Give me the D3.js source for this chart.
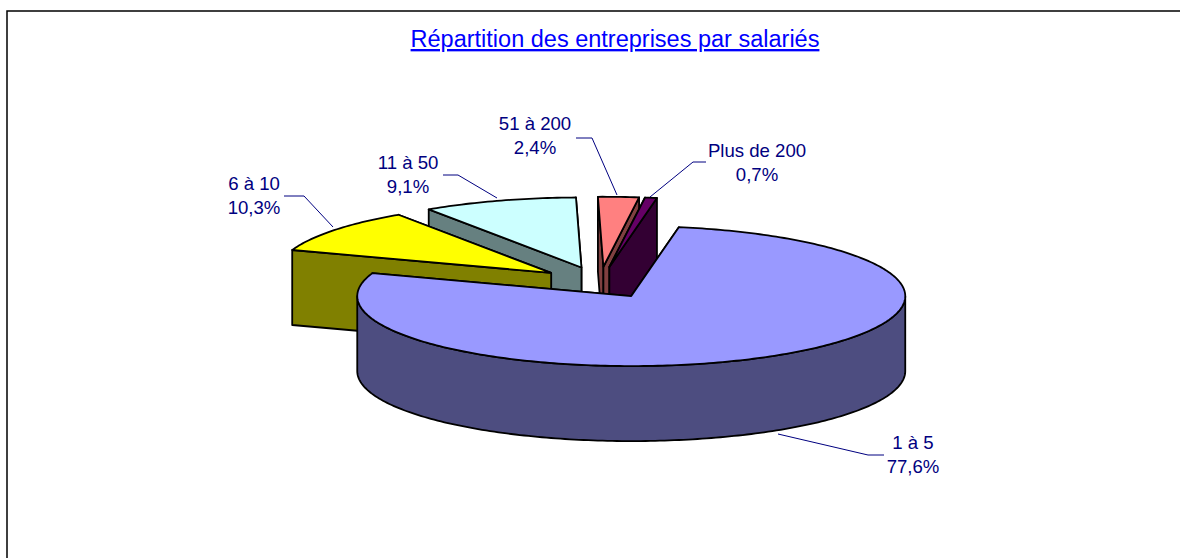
<!DOCTYPE html>
<html>
<head>
<meta charset="utf-8">
<script src="https://d3js.org/d3.v7.min.js"></script>
<style>
  html, body { margin: 0; padding: 0; background: #fff; overflow: hidden; }
  svg { display: block; }
  text { font-family: "Liberation Sans", Arial, sans-serif; }
</style>
</head>
<body>
<svg id="chart" width="1180" height="558"></svg>
<script>
const title = "Répartition des entreprises par salariés";
const categories = ["1 à 5", "6 à 10", "11 à 50", "51 à 200", "Plus de 200"];
const shares = [77.6, 10.3, 9.1, 2.4, 0.7];
const shareLabels = ["77,6%", "10,3%", "9,1%", "2,4%", "0,7%"];
const topColors = ["#9999ff", "#ffff00", "#ccffff", "#ff8080", "#660066"];

// pie geometry
const cx = 600, cy = 282.5, rx = 274, ry = 70, depth = 75, explode = 0.225;
const firstAngle = 10 * Math.PI / 180;

// label centre and leader line for each slice, same order as categories
const labelPos = [[913, 443], [254, 184], [408, 163], [535, 124], [757, 151]];
const leaders = [
  [[778, 434], [868, 455], [884, 455]],
  [[333, 227], [304, 196], [284, 196]],
  [[497, 198], [458, 175], [443, 175]],
  [[617, 195], [592, 138], [576, 138]],
  [[650, 197], [693, 162], [706, 162]]
];

const svg = d3.select("#chart");

svg.append("rect")
  .attr("x", 7).attr("y", 11)
  .attr("width", 1400).attr("height", 800)
  .attr("fill", "#fff").attr("stroke", "#000").attr("stroke-width", 1.5);

svg.append("text")
  .attr("x", 615).attr("y", 47)
  .attr("text-anchor", "middle")
  .attr("font-size", 23.5)
  .attr("fill", "#0000ff")
  .attr("text-decoration", "underline")
  .text(title);

const pie = d3.pie().sort(null).startAngle(firstAngle).endAngle(firstAngle + 2 * Math.PI);
const slices = pie(shares).map((d, i) => {
  const mid = (d.startAngle + d.endAngle) / 2;
  return {
    i: i,
    a0: d.startAngle,
    a1: d.endAngle,
    ox: cx + rx * explode * Math.sin(mid),
    oy: cy - ry * explode * Math.cos(mid)
  };
});

const line = d3.line();
const halfColor = c => {
  const r = d3.rgb(c);
  return d3.rgb(Math.round(r.r / 2), Math.round(r.g / 2), Math.round(r.b / 2)).formatHex();
};

function rimPoint(s, a, dy) {
  return [s.ox + rx * Math.sin(a), s.oy - ry * Math.cos(a) + (dy || 0)];
}

function arcPoints(s, a0, a1, dy) {
  const n = Math.max(2, Math.ceil((a1 - a0) / (Math.PI / 180)));
  return d3.range(n + 1).map(k => rimPoint(s, a0 + (a1 - a0) * k / n, dy));
}

// back slices first, the main slice ends up on top
const group = svg.append("g")
  .attr("stroke", "#000").attr("stroke-width", 1.8).attr("stroke-linejoin", "round");

slices.slice().sort((a, b) => a.oy - b.oy).forEach(s => {
  const top = topColors[s.i], side = halfColor(top);
  const g = group.append("g");

  // the two cut faces, the one nearer the viewer goes last
  [s.a0, s.a1].sort((a, b) => rimPoint(s, a)[1] - rimPoint(s, b)[1]).forEach(a => {
    const p = rimPoint(s, a);
    g.append("path").attr("fill", side).attr("d", line([
      [s.ox, s.oy], p, [p[0], p[1] + depth], [s.ox, s.oy + depth]
    ]) + "Z");
  });

  // outer wall, only the part that faces the viewer
  for (let turn = 0; turn <= 1; turn++) {
    const from = Math.max(s.a0, Math.PI / 2 + turn * 2 * Math.PI);
    const to = Math.min(s.a1, 3 * Math.PI / 2 + turn * 2 * Math.PI);
    if (to > from) {
      const upper = arcPoints(s, from, to, 0);
      const lower = arcPoints(s, from, to, depth).reverse();
      g.append("path").attr("fill", side).attr("d", line(upper.concat(lower)) + "Z");
    }
  }

  g.append("path").attr("fill", top)
    .attr("d", line([[s.ox, s.oy]].concat(arcPoints(s, s.a0, s.a1, 0))) + "Z");
});

svg.append("g").selectAll("path")
  .data(leaders)
  .join("path")
  .attr("d", d => line(d))
  .attr("fill", "none")
  .attr("stroke", "#000080")
  .attr("stroke-width", 1);

const labels = svg.append("g")
  .attr("text-anchor", "middle")
  .attr("font-size", 18.6)
  .attr("fill", "#000080");

categories.forEach((c, i) => {
  labels.append("text").attr("x", labelPos[i][0]).attr("y", labelPos[i][1] + 6).text(c);
  labels.append("text").attr("x", labelPos[i][0]).attr("y", labelPos[i][1] + 30).text(shareLabels[i]);
});
</script>
</body>
</html>
